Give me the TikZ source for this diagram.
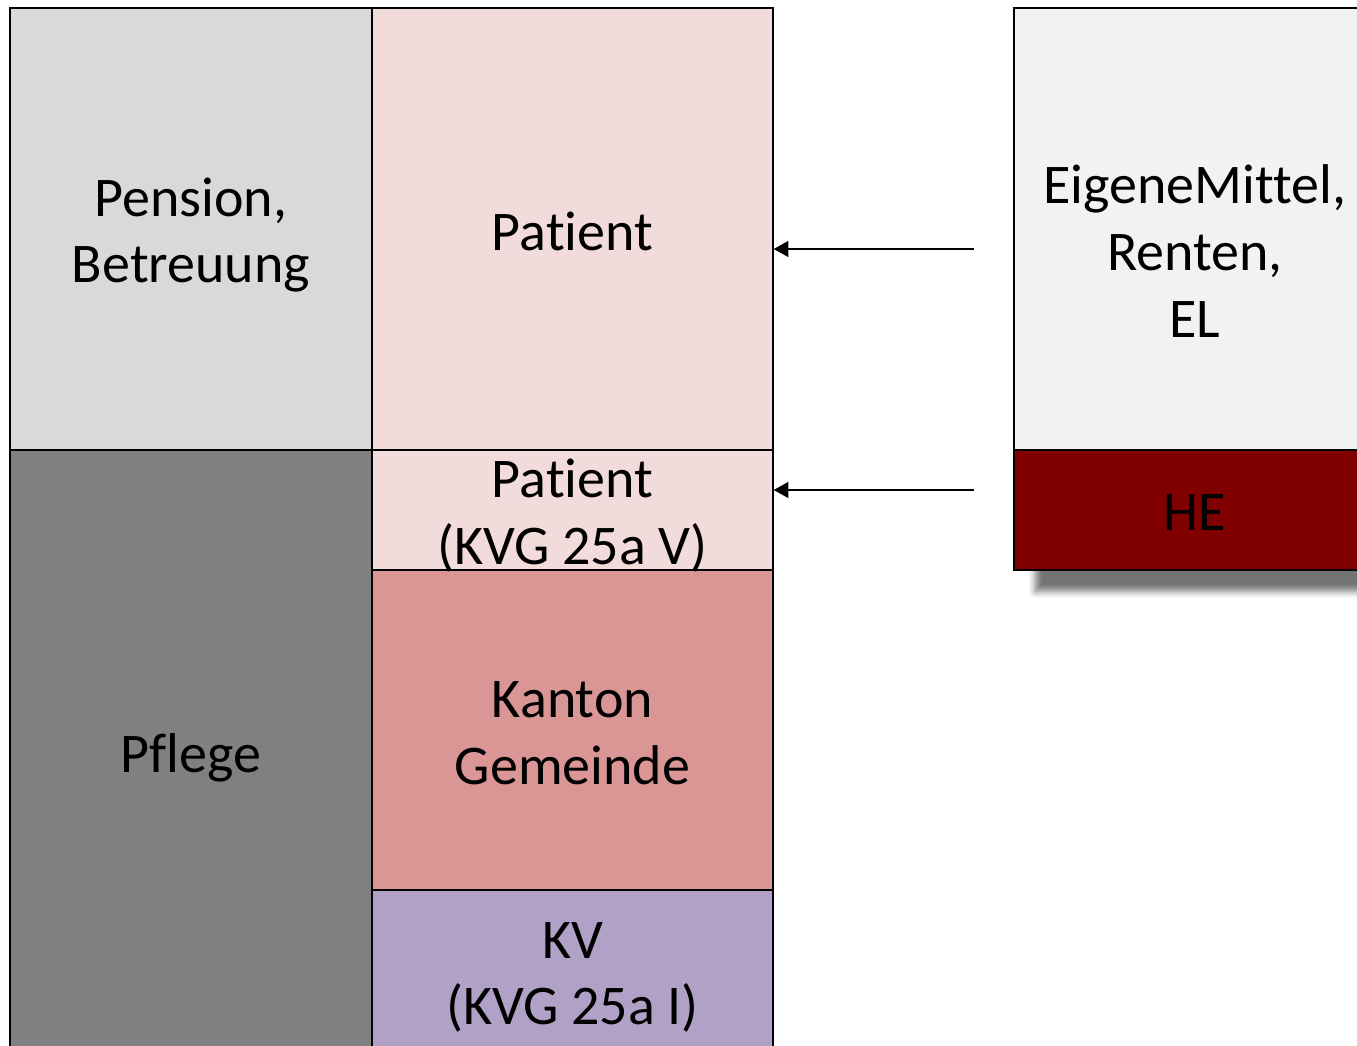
\documentclass[tikz,border=0pt]{standalone}
\usepackage{fontspec}
\setmainfont[Ligatures=NoCommon]{Carlito}
\usetikzlibrary{fit,shadows.blur,arrows.meta}
\definecolor{cPension}{HTML}{D9D9D9}
\definecolor{cPflege}{HTML}{808080}
\definecolor{cPatient}{HTML}{F2DCDB}
\definecolor{cKanton}{HTML}{DA9694}
\definecolor{cKV}{HTML}{B2A1C7}
\definecolor{cEigen}{HTML}{F2F2F2}
\definecolor{cHE}{HTML}{800000}
\tikzset{
  box/.style={draw=black, line width=1.1pt, inner sep=0pt},
  lbl/.style={inner sep=0pt, align=center, font=\fontsize{42}{50}\selectfont, text=black},
  flow/.style={draw=black, line width=1pt, -{Triangle[length=11pt,width=12pt]}},
}
\begin{document}
\begin{tikzpicture}[x=0.75pt,y=-0.75pt]
\useasboundingbox (0,0) rectangle (1357,1046);
\clip (0,0) rectangle (1357,1046);
% left column
\node[box, fill=cPension, fit={(10,8) (372,450)}] (pension) {};
\node[box, fill=cPflege, fit={(10,450) (372,1060)}] (pflege) {};
% middle column
\node[box, fill=cPatient, fit={(372,8) (773,450)}] (patient) {};
\node[box, fill=cPatient, fit={(372,450) (773,570)}] (patkvg) {};
\node[box, fill=cKanton, fit={(372,570) (773,890)}] (kanton) {};
\node[box, fill=cKV, fit={(372,890) (773,1056)}] (kv) {};
% right box with shadow
\node[inner sep=0pt, fill=white, blur shadow={shadow xshift=16pt, shadow yshift=-16pt, shadow blur radius=5pt, shadow opacity=55}, fit={(1014,8) (1376,570)}] (rightbg) {};
\node[box, fill=cEigen, fit={(1014,8) (1376,450)}] (eigen) {};
\node[box, fill=cHE, fit={(1014,450) (1376,570)}] (he) {};
% labels
\node[lbl] (tpension) at ([yshift=-4.5pt]pension.center) {Pension,\\Betreuung};
\node[lbl] (tpflege) at ([yshift=-2.2pt]pflege.center) {Pflege};
\node[lbl] (tpatient) at ([yshift=-1.5pt]patient.center) {Patient};
\node[lbl] (tpatkvg) at ([yshift=-4pt]patkvg.center) {Patient\\(KVG 25a V)};
\node[lbl] (tkanton) at ([yshift=-2.2pt]kanton.center) {Kanton\\Gemeinde};
\node[lbl] (tkv) at ([yshift=-3.3pt]kv.center) {KV\\(KVG 25a I)};
\node[lbl] (the) at ([yshift=-2.2pt]he.center) {HE};
\node[lbl] (teigen) at (1195,251) {EigeneMittel,\\Renten,\\EL};
% arrows
\coordinate (s1) at (974,249);
\coordinate (s2) at (974,490);
\draw[flow] (s1) -- (s1 -| patient.east);
\draw[flow] (s2) -- (s2 -| patkvg.east);
\end{tikzpicture}
\end{document}
